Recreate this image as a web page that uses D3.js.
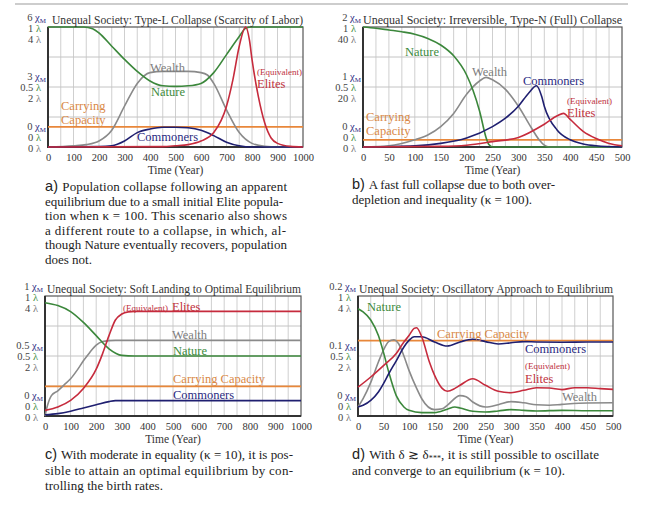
<!DOCTYPE html>
<html><head><meta charset="utf-8">
<script src="https://cdn.jsdelivr.net/npm/d3@7"></script>
<style>body{margin:0;background:#fff}svg{display:block}text{font-family:"Liberation Serif","Times New Roman",serif}</style>
</head><body>
<script>
// ---------- DATA (fraction of full scale vs. year) ----------
const aTitle = "Unequal Society: Type-L Collapse (Scarcity of Labor)";
const aNature = [[0,1],[140,1],[175,0.985],[200,0.95],[250,0.84],[300,0.73],[350,0.63],[400,0.55],[450,0.51],[500,0.505],[550,0.51],[600,0.53],[650,0.62],[700,0.77],[750,0.92],[775,0.99],[800,1],[1000,1]];
const aWealth = [[0,0],[100,0.01],[150,0.02],[200,0.05],[250,0.14],[300,0.34],[350,0.53],[400,0.62],[450,0.63],[500,0.63],[550,0.63],[600,0.62],[625,0.6],[650,0.53],[700,0.31],[750,0.12],[800,0.03],[850,0.005],[900,0],[1000,0]];
const aCommoners = [[0,0],[200,0.003],[250,0.01],[300,0.05],[350,0.12],[400,0.15],[450,0.165],[500,0.165],[550,0.16],[600,0.14],[650,0.095],[700,0.04],[750,0.01],[800,0],[1000,0]];
const aElites = [[0,0],[450,0.003],[500,0.01],[550,0.02],[600,0.05],[650,0.12],[700,0.34],[725,0.56],[750,0.84],[775,1],[790,0.89],[800,0.73],[825,0.42],[850,0.2],[875,0.075],[900,0.03],[950,0.005],[1000,0]];
const aCarrying = 0.167;
const aStack = [["6","1","4"],["3","0.5","2"],["0","0","0"]];
const aTicks = [0,100,200,300,400,500,600,700,800,900,1000];

const bTitle = "Unequal Society: Irreversible, Type-N (Full) Collapse";
const bNature = [[0,1],[25,0.99],[50,0.975],[75,0.96],[100,0.94],[125,0.905],[150,0.85],[175,0.76],[200,0.6],[212.5,0.47],[225,0.3],[237.5,0.08],[243,0.02],[250,0],[500,0]];
const bWealth = [[0,0],[50,0.01],[100,0.06],[125,0.1],[150,0.17],[175,0.28],[200,0.44],[225,0.55],[237.5,0.58],[250,0.56],[275,0.48],[300,0.34],[325,0.16],[340,0.06],[350,0.015],[360,0],[500,0]];
const bCommoners = [[0,0],[100,0.01],[150,0.03],[200,0.075],[250,0.17],[275,0.24],[300,0.34],[320,0.45],[335,0.51],[345,0.42],[350,0.34],[375,0.14],[400,0.06],[425,0.025],[450,0.01],[500,0]];
const bElites = [[0,0],[150,0.005],[200,0.015],[250,0.045],[300,0.08],[350,0.19],[375,0.26],[387,0.28],[400,0.23],[425,0.13],[450,0.07],[475,0.03],[500,0.01]];
const bCarrying = 0.06;
const bStack = [["2","1","40"],["1","0.5","20"],["0","0","0"]];
const bTicks = [0,50,100,150,200,250,300,350,400,450,500];

const cTitle = "Unequal Society: Soft Landing to Optimal Equilibrium";
const cNature = [[0,0.944],[50,0.92],[100,0.87],[150,0.78],[200,0.67],[250,0.56],[300,0.505],[350,0.5],[1000,0.5]];
const cWealth = [[0,0],[10,0.09],[25,0.17],[50,0.21],[75,0.26],[100,0.31],[125,0.38],[150,0.46],[175,0.53],[200,0.59],[225,0.62],[250,0.628],[275,0.63],[1000,0.63]];
const cCommoners = [[0,0.01],[50,0.02],[100,0.04],[150,0.067],[200,0.094],[250,0.12],[275,0.128],[1000,0.128]];
const cElites = [[0,0.047],[50,0.075],[100,0.13],[150,0.23],[200,0.39],[225,0.52],[250,0.67],[275,0.8],[300,0.85],[325,0.868],[350,0.872],[1000,0.872]];
const cCarrying = 0.247;
const cStack = [["1","1","4"],["0.5","0.5","2"],["0","0","0"]];
const cTicks = [0,100,200,300,400,500,600,700,800,900,1000];

const dTitle = "Unequal Society: Oscillatory Approach to Equilibrium";
const dNature = [[0,0.894],[10,0.867],[25,0.8],[40,0.67],[50,0.53],[60,0.37],[75,0.17],[90,0.075],[100,0.047],[125,0.028],[150,0.028],[175,0.056],[190,0.075],[200,0.067],[225,0.039],[250,0.033],[275,0.042],[300,0.053],[325,0.047],[350,0.042],[400,0.047],[450,0.044],[500,0.044]];
const dWealth = [[0,0.075],[10,0.144],[25,0.28],[40,0.45],[50,0.55],[60,0.62],[70,0.636],[80,0.6],[90,0.5],[100,0.38],[115,0.23],[125,0.144],[150,0.053],[165,0.06],[175,0.089],[200,0.17],[212,0.16],[225,0.117],[250,0.075],[275,0.094],[300,0.12],[325,0.11],[350,0.094],[375,0.09],[400,0.097],[450,0.108],[500,0.11]];
const dCommoners = [[0,0.075],[10,0.089],[25,0.13],[40,0.2],[50,0.27],[60,0.35],[75,0.46],[90,0.575],[100,0.63],[110,0.66],[125,0.66],[150,0.617],[175,0.583],[200,0.617],[225,0.64],[250,0.62],[275,0.6],[300,0.61],[325,0.62],[350,0.617],[400,0.615],[450,0.617],[500,0.617]];
const dElites = [[0,0.24],[25,0.325],[50,0.42],[75,0.52],[90,0.617],[100,0.67],[110,0.73],[115,0.736],[125,0.66],[140,0.45],[150,0.34],[165,0.23],[175,0.206],[190,0.23],[200,0.256],[225,0.31],[250,0.256],[275,0.206],[300,0.194],[325,0.214],[350,0.236],[375,0.233],[400,0.22],[425,0.236],[450,0.236],[475,0.228],[500,0.222]];
const dCarrying = 0.628;
const dStack = [["0.2","1","4"],["0.1","0.5","2"],["0","0","0"]];
const dTicks = [0,50,100,150,200,250,300,350,400,450,500];

const aCaption = ["Population collapse following an apparent","equilibrium due to a small initial Elite popula-","tion when \u03BA  = 100. This scenario also shows","a different route to a collapse, in which, al-","though Nature eventually recovers, population","does not."];
const bCaption = ["A fast full collapse due to both over-","depletion and inequality (\u03BA = 100)."];
const cCaption = ["With moderate in equality (\u03BA = 10), it is pos-","sible to attain an optimal equilibrium by con-","trolling the birth rates."];
const dCaption = ["With \u03B4 \u2273 \u03B4***, it is still possible to oscillate","and converge to an equilibrium (\u03BA = 10)."];

// ---------- STYLE ----------
const COL = {nature:"#3b873b", wealth:"#8a8a8a", commoners:"#1f1f70", elites:"#c62b3d", cc:"#e8873a",
  natureT:"#3d8b3d", wealthT:"#7d7d7d", commonersT:"#2a2a82", elitesT:"#c0303c", ccT:"#d98846", chi:"#2a2a82", lam1:"#3d8b3d", lam2:"#777", num:"#444"};

const svg = d3.select("body").append("svg").attr("width",661).attr("height",515);
svg.append("line").attr("x1",15).attr("x2",628).attr("y1",4).attr("y2",4).attr("stroke","#bdbdbd").attr("stroke-width",1.5);

function drawPanel(p){
  const g = svg.append("g");
  const x = d3.scaleLinear().domain([0,p.xmax]).range([p.x0,p.x1]);
  const y = d3.scaleLinear().domain([0,1]).range([p.y1,p.y0]);
  // grid
  g.selectAll(".vg").data(d3.range(p.grid,p.xmax,p.grid)).join("line")
    .attr("x1",d=>x(d)).attr("x2",d=>x(d)).attr("y1",p.y0).attr("y2",p.y1).attr("stroke","#cfcfcf").attr("stroke-width",1);
  g.selectAll(".hg").data([0.25,0.5,0.75]).join("line")
    .attr("x1",p.x0).attr("x2",p.x1).attr("y1",d=>y(d)).attr("y2",d=>y(d)).attr("stroke","#c4c4c4").attr("stroke-width",1);
  // frame
  g.append("rect").attr("x",p.x0).attr("y",p.y0).attr("width",p.x1-p.x0).attr("height",p.y1-p.y0).attr("fill","none").attr("stroke","#555").attr("stroke-width",1.2);
  g.append("path").attr("d",`M${p.x0},${p.y0}V${p.y1}H${p.x1}`).attr("fill","none").attr("stroke","#333").attr("stroke-width",2);
  // x axis
  const ax = g.append("g").attr("transform",`translate(0,${p.y1})`).call(d3.axisBottom(x).tickValues(p.ticks).tickSize(0).tickPadding(7).tickFormat(d3.format("d")));
  ax.select(".domain").remove();
  ax.selectAll("text").attr("font-family","Liberation Serif").attr("font-size",10.5).attr("fill","#333");
  g.append("text").attr("x",(p.x0+p.x1)/2).attr("y",p.y1+27).attr("text-anchor","middle").attr("font-size",11.5).attr("fill","#333").text("Time (Year)");
  // lines
  const line = d3.line().x(d=>x(d[0])).y(d=>y(d[1])).curve(d3.curveMonotoneX);
  g.append("line").attr("x1",p.x0).attr("x2",p.x1).attr("y1",y(p.cc)).attr("y2",y(p.cc)).attr("stroke",COL.cc).attr("stroke-width",1.8);
  [["wealth",p.wealth],["nature",p.nature],["commoners",p.commoners],["elites",p.elites]].forEach(([k,data])=>{
    g.append("path").attr("d",line(data)).attr("fill","none").attr("stroke",COL[k]).attr("stroke-width",1.6);
  });
  // title
  g.append("text").attr("x",p.tx0).attr("y",p.y0-3).attr("font-size",12).attr("fill","#333")
    .attr("textLength",p.tx1-p.tx0).attr("lengthAdjust","spacingAndGlyphs").text(p.title);
  // stacks
  const lv = [1,0.5,0];
  const offs = [[-10,1,12],[-11,0,11],[-21,-10,1]];
  p.stack.forEach((s,i)=>{
    const yy = y(lv[i]);
    const t1 = g.append("text").attr("x",p.x0-2).attr("y",yy+offs[i][0]+3.5).attr("text-anchor","end").attr("font-size",10.5);
    t1.append("tspan").attr("fill",COL.num).text(s[0]+" ");
    t1.append("tspan").attr("fill",COL.chi).text("\u03C7");
    t1.append("tspan").attr("fill",COL.chi).attr("font-size",7).attr("dy",2).text("M");
    const t2 = g.append("text").attr("x",p.x0-7).attr("y",yy+offs[i][1]+3.5).attr("text-anchor","end").attr("font-size",10.5);
    t2.append("tspan").attr("fill",COL.num).text(s[1]+" ");
    t2.append("tspan").attr("fill",COL.lam1).text("\u03BB");
    const t3 = g.append("text").attr("x",p.x0-7).attr("y",yy+offs[i][2]+3.5).attr("text-anchor","end").attr("font-size",10.5);
    t3.append("tspan").attr("fill",COL.num).text(s[2]+" ");
    t3.append("tspan").attr("fill",COL.lam2).text("\u03BB");
  });
  // series labels
  p.labels.forEach(l=>{
    g.append("text").attr("x",l[1]).attr("y",l[2]+4).attr("font-size",l[4]||12.5).attr("fill",COL[l[3]]).text(l[0]);
  });
  // caption
  p.caption.forEach((c,i)=>{
    const t = g.append("text").attr("x",p.cx).attr("y",p.cy+i*p.cdy).attr("font-size",13).attr("fill","#222");
    if(i===0){ t.append("tspan").attr("font-family","Liberation Sans").attr("font-size",14.5).text(p.id+") "); }
    if(p.id==="d" && i===0){
      t.append("tspan").text("With \u03B4 \u2273 \u03B4");
      t.append("tspan").attr("font-size",8).attr("dy",2).text("***");
      t.append("tspan").attr("dy",-2).text(", it is still possible to oscillate");
    } else t.append("tspan").text(c);
    if(p.cw[i]) t.attr("textLength",p.cw[i]).attr("lengthAdjust","spacing");
  });
}

drawPanel({id:"a",x0:48,x1:303,y0:27,y1:147,xmax:1000,grid:50,ticks:aTicks,title:aTitle,tx0:52,tx1:303,
  nature:aNature,wealth:aWealth,commoners:aCommoners,elites:aElites,cc:aCarrying,stack:aStack,
  labels:[["Wealth",150,68,"wealthT"],["Nature",151,92,"natureT"],["(Equivalent)",257,71,"elitesT",9],["Elites",257,84,"elitesT"],["Carrying",61,106,"ccT"],["Capacity",61,120,"ccT"],["Commoners",137,137,"commonersT"]],
  caption:aCaption,cx:45,cy:191,cdy:14.6,cw:[242,238,242,241,242,0]});
drawPanel({id:"b",x0:363,x1:622,y0:27,y1:147,xmax:500,grid:25,ticks:bTicks,title:bTitle,tx0:363,tx1:622,
  nature:bNature,wealth:bWealth,commoners:bCommoners,elites:bElites,cc:bCarrying,stack:bStack,
  labels:[["Nature",405,52,"natureT"],["Wealth",472,72,"wealthT"],["Commoners",523,81,"commonersT"],["(Equivalent)",567,100,"elitesT",9],["Elites",567,113,"elitesT"],["Carrying",366,117,"ccT"],["Capacity",366,131,"ccT"]],
  caption:bCaption,cx:352,cy:189,cdy:15,cw:[203,180]});
drawPanel({id:"c",x0:45,x1:301,y0:296,y1:416,xmax:1000,grid:50,ticks:cTicks,title:cTitle,tx0:47,tx1:301,
  nature:cNature,wealth:cWealth,commoners:cCommoners,elites:cElites,cc:cCarrying,stack:cStack,
  labels:[["(Equivalent)",123,307,"elitesT",9],["Elites",172,307,"elitesT"],["Wealth",172,335,"wealthT"],["Nature",173,351,"natureT"],["Carrying Capacity",173,379,"ccT"],["Commoners",173,395,"commonersT"]],
  caption:cCaption,cx:45,cy:459,cdy:15.5,cw:[248,248,118]});
drawPanel({id:"d",x0:358,x1:613,y0:296,y1:416,xmax:500,grid:25,ticks:dTicks,title:dTitle,tx0:359,tx1:613,
  nature:dNature,wealth:dWealth,commoners:dCommoners,elites:dElites,cc:dCarrying,stack:dStack,
  labels:[["Nature",367,307,"natureT"],["Carrying Capacity",437,334,"ccT"],["Commoners",525,349,"commonersT"],["(Equivalent)",525,365,"elitesT",9],["Elites",525,379,"elitesT"],["Wealth",562,397,"wealthT"]],
  caption:dCaption,cx:352,cy:459,cdy:15.5,cw:[247,213]});
</script>
</body></html>
